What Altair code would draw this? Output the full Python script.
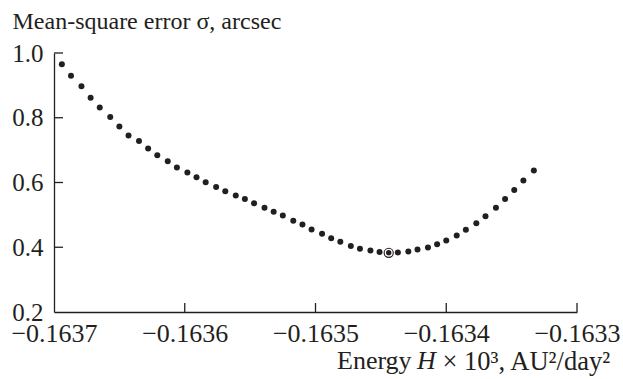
import altair as alt
import pandas as pd

energy = [-0.163694, -0.163687, -0.163679, -0.163672, -0.163665, -0.163657, -0.163650,
          -0.163643, -0.163635, -0.163628, -0.163621, -0.163613, -0.163606, -0.163598,
          -0.163591, -0.163584, -0.163576, -0.163569, -0.163561, -0.163554, -0.163547,
          -0.163539, -0.163532, -0.163525, -0.163517, -0.163510, -0.163503, -0.163495,
          -0.163488, -0.163481, -0.163473, -0.163466, -0.163458, -0.163451, -0.163444,
          -0.163437, -0.163429, -0.163422, -0.163414, -0.163407, -0.163400, -0.163392,
          -0.163385, -0.163377, -0.163370, -0.163362, -0.163355, -0.163348, -0.163341,
          -0.163333]
sigma = [0.965, 0.930, 0.897, 0.862, 0.832, 0.802, 0.773, 0.745, 0.728, 0.705,
         0.684, 0.666, 0.646, 0.631, 0.616, 0.601, 0.586, 0.573, 0.560, 0.549,
         0.536, 0.522, 0.510, 0.498, 0.482, 0.470, 0.455, 0.442, 0.428, 0.417,
         0.404, 0.395, 0.390, 0.385, 0.383, 0.384, 0.387, 0.393, 0.399, 0.409,
         0.421, 0.436, 0.454, 0.474, 0.496, 0.522, 0.549, 0.577, 0.606, 0.637]
best_energy = [-0.163444]
best_sigma = [0.383]
x_ticks = [-0.1637, -0.1636, -0.1635, -0.1634, -0.1633]
y_ticks = [0.2, 0.4, 0.6, 0.8, 1.0]
y_title = "Mean-square error σ, arcsec"
x_title_word = ["Energy"]
x_title_var = ["H"]
x_title_rest = "× 10³, AU²/day²"

W, H = 523, 259
FONT = "Liberation Serif"
INK = "#231f20"

df = pd.DataFrame({"energy": energy, "sigma": sigma})
best = pd.DataFrame({"energy": best_energy, "sigma": best_sigma})
xt = pd.DataFrame({"energy": x_ticks[1:]})
yt = pd.DataFrame({"sigma": y_ticks[1:]})

xscale = alt.Scale(domain=[x_ticks[0], x_ticks[-1]], nice=False, zero=False)
yscale = alt.Scale(domain=[y_ticks[0], y_ticks[-1]], nice=False, zero=False)

xaxis = alt.Axis(values=x_ticks, format=".4f", ticks=False, tickSize=0, grid=False,
                 domainColor=INK, domainWidth=1.3, labelFont=FONT, labelFontSize=26,
                 labelColor=INK, labelPadding=29, labelBaseline="alphabetic",
                 labelFlush=False, labelOverlap=False,
                 title=x_title_rest, titleFont=FONT, titleFontSize=26.5,
                 titleFontWeight="normal", titleColor=INK, titleAlign="left",
                 titleX=388, titleY=57, titleBaseline="alphabetic")
yaxis = alt.Axis(values=y_ticks, format=".1f", ticks=False, tickSize=0, grid=False,
                 domainColor=INK, domainWidth=1.3, labelFont=FONT, labelFontSize=25,
                 labelColor=INK, labelPadding=11, labelFlush=False, labelOverlap=False,
                 title=y_title, titleFont=FONT, titleFontSize=24,
                 titleFontWeight="normal", titleColor=INK, titleAngle=0, titleAlign="left",
                 titleX=-42, titleY=-25, titleBaseline="alphabetic")

X = alt.X("energy:Q", scale=xscale, axis=xaxis)
Y = alt.Y("sigma:Q", scale=yscale, axis=yaxis)

points = alt.Chart(df).mark_circle(size=36, color=INK, opacity=1).encode(x=X, y=Y)

best_outer = alt.Chart(best).mark_circle(size=105, color=INK, opacity=1).encode(x=X, y=Y)
best_ring = alt.Chart(best).mark_point(shape="circle", filled=False, stroke="white",
                                       strokeWidth=1.3, size=45, opacity=1).encode(x=X, y=Y)

xtick_rules = alt.Chart(xt).mark_rule(color=INK, strokeWidth=1.3).encode(
    x=X, y=alt.value(H), y2=alt.value(H - 9))
ytick_rules = alt.Chart(yt).mark_rule(color=INK, strokeWidth=1.3).encode(
    y=Y, x=alt.value(0), x2=alt.value(9))

word = alt.Chart(pd.DataFrame({"t": x_title_word})).mark_text(
    font=FONT, fontSize=26, color=INK, align="left", baseline="alphabetic").encode(
    text="t:N", x=alt.value(283), y=alt.value(H + 57))
var = alt.Chart(pd.DataFrame({"t": x_title_var})).mark_text(
    font=FONT, fontSize=26, fontStyle="italic", color=INK, align="left",
    baseline="alphabetic").encode(text="t:N", x=alt.value(363), y=alt.value(H + 57))

chart = alt.layer(points, xtick_rules, ytick_rules, best_outer, best_ring, word, var).properties(
    width=W, height=H,
    autosize=alt.AutoSizeParams(type="none"),
    padding={"left": 54, "top": 53, "right": 46, "bottom": 67},
    background="white",
).configure_view(stroke=None)

chart.save("out.html", embed_options={"renderer": "svg", "actions": False})
